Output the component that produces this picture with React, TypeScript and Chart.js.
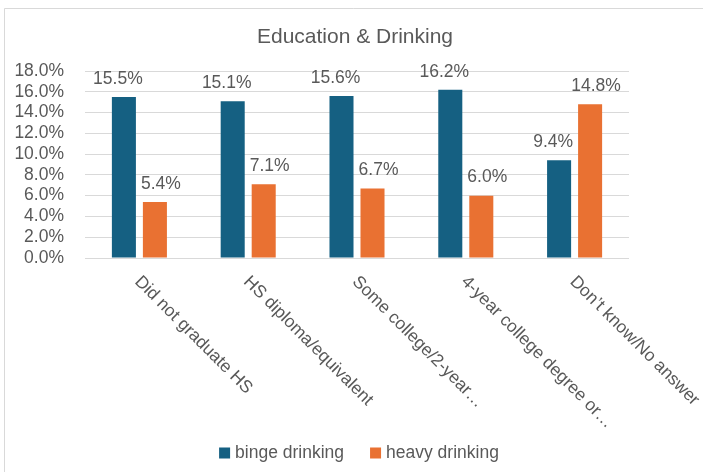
import React, { useEffect, useRef } from "react";
import { Chart, registerables } from "chart.js";

Chart.register(...registerables);

const TITLE = "Education & Drinking";
const categories = [
  "Did not graduate HS",
  "HS diploma/equivalent",
  "Some college/2-year…",
  "4-year college degree or…",
  "Don’t know/No answer",
];
const seriesNames = ["binge drinking", "heavy drinking"];
const bingeValues = [15.5, 15.1, 15.6, 16.2, 9.4];
const heavyValues = [5.4, 7.1, 6.7, 6.0, 14.8];
const yMin = 0;
const yMax = 18;
const yStep = 2;

const COLORS = ["#156082", "#E97132"];
const FONT = '"Liberation Sans", Arial, sans-serif';
const TEXT = "#595959";
const GRID = "#D9D9D9";
const W = 703;
const H = 472;

const decorPlugin = {
  id: "decor",
  beforeDraw(chart: any) {
    const ctx = chart.ctx;
    ctx.save();
    ctx.fillStyle = "#ffffff";
    ctx.fillRect(0, 0, chart.width, chart.height);
    ctx.strokeStyle = GRID;
    ctx.lineWidth = 1;
    ctx.beginPath();
    ctx.moveTo(4.5, chart.height);
    ctx.lineTo(4.5, 8.5);
    ctx.lineTo(chart.width, 8.5);
    ctx.stroke();
    ctx.restore();
  },
  afterDraw(chart: any) {
    const ctx = chart.ctx;
    const area = chart.chartArea;
    ctx.save();
    ctx.fillStyle = TEXT;

    // title
    ctx.font = `21px ${FONT}`;
    ctx.textAlign = "center";
    ctx.textBaseline = "middle";
    ctx.fillText(TITLE, 355, 37);

    // data labels
    ctx.font = `17.5px ${FONT}`;
    chart.data.datasets.forEach((ds: any, di: number) => {
      const meta = chart.getDatasetMeta(di);
      meta.data.forEach((bar: any, i: number) => {
        const v = ds.data[i] as number;
        const dx = di === 0 ? -6 : 6;
        ctx.fillText(v.toFixed(1) + "%", bar.x + dx, bar.y - 18);
      });
    });

    // rotated category labels
    const xs = chart.scales.x;
    ctx.textAlign = "left";
    ctx.textBaseline = "middle";
    (chart.data.labels as string[]).forEach((c, i) => {
      const x = xs.getPixelForValue(i);
      ctx.save();
      ctx.translate(x - 2, area.bottom + 21);
      ctx.rotate(Math.PI / 4);
      ctx.fillText(c, 0, 0);
      ctx.restore();
    });

    // legend
    ctx.font = `17.5px ${FONT}`;
    const box = 11;
    const gapBoxText = 5;
    const gapItems = 26;
    const widths = chart.data.datasets.map((ds: any) => ctx.measureText(ds.label).width);
    const total =
      widths.reduce((a: number, b: number) => a + b, 0) +
      chart.data.datasets.length * (box + gapBoxText) +
      gapItems * (chart.data.datasets.length - 1);
    let lx = 359 - total / 2;
    const ly = 453;
    chart.data.datasets.forEach((ds: any, di: number) => {
      ctx.fillStyle = ds.backgroundColor;
      ctx.fillRect(lx, ly - box / 2, box, box);
      lx += box + gapBoxText;
      ctx.fillStyle = TEXT;
      ctx.textAlign = "left";
      ctx.fillText(ds.label, lx, ly);
      lx += widths[di] + gapItems;
    });

    ctx.restore();
  },
};

export default function App() {
  const canvasRef = useRef<HTMLCanvasElement | null>(null);

  useEffect(() => {
    const canvas = canvasRef.current;
    if (!canvas) return;
    const chart = new Chart(canvas, {
      type: "bar",
      data: {
        labels: categories,
        datasets: [
          {
            label: seriesNames[0],
            data: bingeValues,
            backgroundColor: COLORS[0],
            categoryPercentage: 0.57,
            barPercentage: 0.775,
          },
          {
            label: seriesNames[1],
            data: heavyValues,
            backgroundColor: COLORS[1],
            categoryPercentage: 0.57,
            barPercentage: 0.775,
          },
        ],
      },
      options: {
        responsive: false,
        animation: false,
        devicePixelRatio: 1,
        layout: { padding: { top: 71, right: 74, bottom: 0, left: 0 } },
        plugins: {
          legend: { display: false },
          title: { display: false },
          tooltip: { enabled: false },
        },
        scales: {
          x: {
            display: true,
            grid: { display: false },
            border: { display: false },
            ticks: { display: false },
            afterFit: (scale: any) => {
              scale.height = 214;
            },
          },
          y: {
            min: yMin,
            max: yMax,
            ticks: {
              stepSize: yStep,
              autoSkip: false,
              padding: 21,
              color: TEXT,
              font: { family: FONT, size: 17.5 },
              callback: (v: any) => Number(v).toFixed(1) + "%",
            },
            grid: { color: GRID, lineWidth: 1, drawTicks: false },
            border: { display: false },
            afterFit: (scale: any) => {
              scale.width = 85;
            },
          },
        },
      },
      plugins: [decorPlugin],
    } as any);
    return () => chart.destroy();
  }, []);

  return (
    <div style={{ position: "absolute", left: 0, top: 0, width: W, height: H, overflow: "hidden", background: "#fff" }}>
      <canvas ref={canvasRef} width={W} height={H} style={{ display: "block", width: W, height: H }} />
    </div>
  );
}
